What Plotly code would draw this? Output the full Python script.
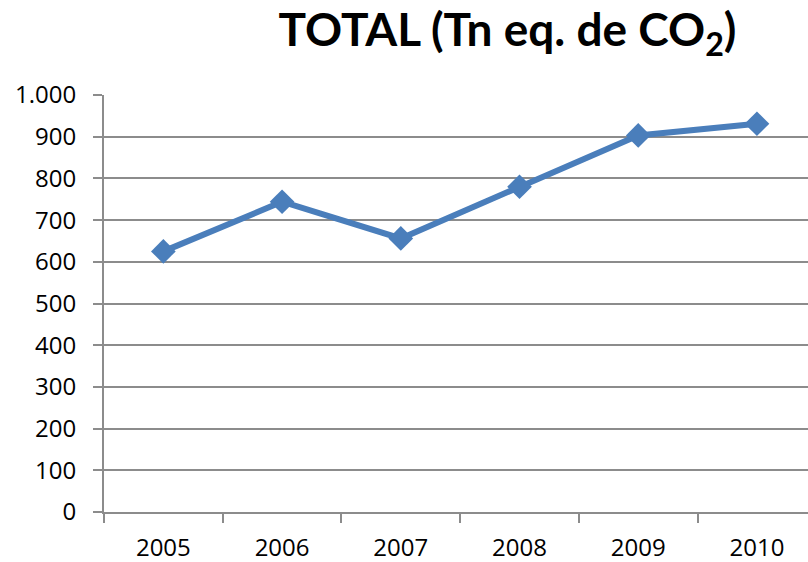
import plotly.graph_objects as go

# Emisiones totales por año
years = ["2005", "2006", "2007", "2008", "2009", "2010"]
total_co2 = [625, 744, 656, 780, 903, 931]

y_ticks = [0, 100, 200, 300, 400, 500, 600, 700, 800, 900, 1000]

line_color = "#4A7EBB"
grid_color = "#8C8C8C"
font_family = "Open Sans, Noto Sans, sans-serif"

fig = go.Figure(
    go.Scatter(
        x=years,
        y=total_co2,
        mode="lines+markers",
        line=dict(color=line_color, width=6),
        marker=dict(symbol="diamond", size=19, color=line_color),
        cliponaxis=False,
        showlegend=False,
    )
)

fig.update_layout(
    width=808,
    height=562,
    margin=dict(l=104, r=0, t=95, b=50),
    paper_bgcolor="white",
    plot_bgcolor="white",
    separators=",.",
    font=dict(family=font_family, size=24, color="#000000"),
    title=dict(
        text="<b>TOTAL (Tn eq. de CO<sub>2</sub>)</b>",
        font=dict(family="Lato, Open Sans, sans-serif", size=46, color="#000000"),
        x=0.628,
        xanchor="center",
        y=0.975,
        yanchor="top",
    ),
)

fig.update_xaxes(
    type="category",
    range=[-0.5, 5.43],
    automargin=False,
    showgrid=False,
    showline=True,
    linecolor=grid_color,
    linewidth=2,
    ticks="outside",
    tickson="boundaries",
    ticklen=9,
    tickwidth=2,
    tickcolor=grid_color,
    ticklabelstandoff=13,
    tickfont=dict(size=24),
)

fig.update_yaxes(
    range=[0, 1000],
    automargin=False,
    tickvals=y_ticks,
    tickformat=",d",
    showgrid=True,
    gridcolor=grid_color,
    gridwidth=2,
    showline=True,
    linecolor=grid_color,
    linewidth=2,
    ticks="outside",
    ticklen=9,
    tickwidth=2,
    tickcolor=grid_color,
    ticklabelstandoff=12,
    zeroline=False,
    tickfont=dict(size=24),
)

fig.write_html("out.html")
